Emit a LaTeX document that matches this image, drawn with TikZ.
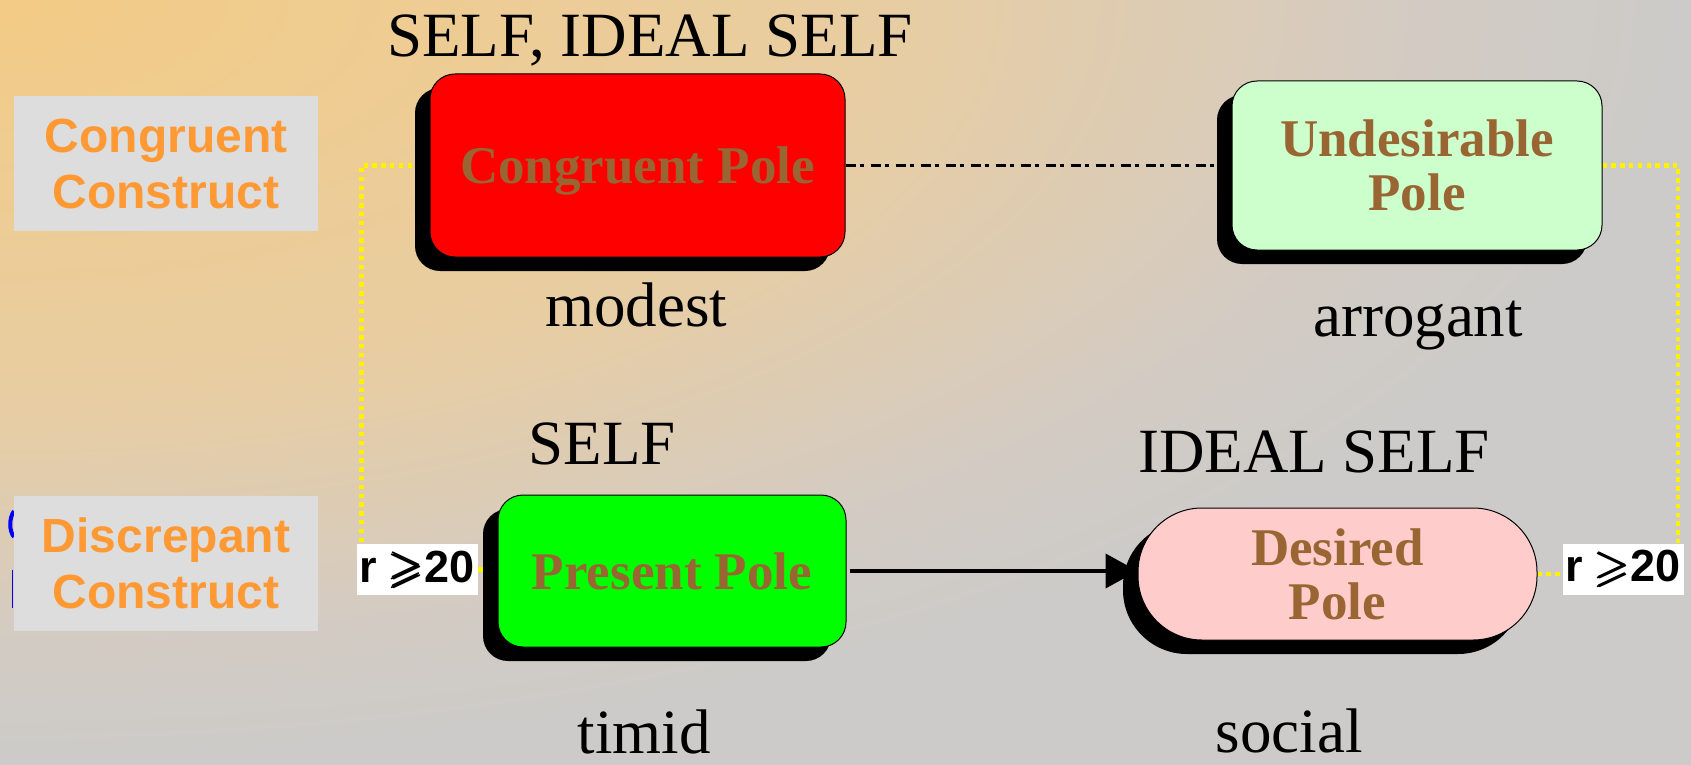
\documentclass[tikz,border=0pt]{standalone}
\usepackage{fontspec}
\usepackage{amsmath,amssymb}
\setmainfont{Liberation Serif}
\newfontfamily\arialfont{Liberation Sans}
\usetikzlibrary{arrows.meta,shadows,backgrounds}
\definecolor{bgorange}{HTML}{F3CB85}
\definecolor{bgtan}{HTML}{E8CDA2}
\definecolor{bgstone}{HTML}{D3CBC3}
\definecolor{bggray}{HTML}{CCCBC9}
\definecolor{polebrown}{HTML}{996633}
\definecolor{labelorange}{HTML}{FF9933}
\definecolor{labelgray}{HTML}{DDDDDD}
\definecolor{undesgreen}{HTML}{CCFFCC}
\definecolor{desirpink}{HTML}{FFCCCC}
\pgfdeclareradialshading{slidebg}{\pgfpoint{0bp}{0bp}}{color(0bp)=(bgorange); color(13bp)=(bgtan); color(21bp)=(bgstone); color(25bp)=(bggray); color(50bp)=(bggray)}
\begin{document}
\begin{tikzpicture}[x=0.5pt,y=-0.5pt,
    pole/.style={draw=black, line width=0.5pt, rounded corners=12.5pt, inner sep=0pt,
      text=polebrown, font=\fontsize{26.5}{27}\selectfont\bfseries, align=center,
      drop shadow={shadow xshift=-7.5pt, shadow yshift=-7pt, fill=black, opacity=1}},
    construct/.style={fill=labelgray, text=labelorange, inner sep=0pt, align=center,
      font=\arialfont\bfseries\fontsize{24}{28}\selectfont, minimum width=152pt, minimum height=67.5pt},
    corr/.style={fill=white, font=\arialfont\bfseries\fontsize{22.5}{24}\selectfont,
      minimum width=60.5pt, minimum height=25.5pt, inner xsep=1pt, inner ysep=0pt},
    caption/.style={font=\fontsize{31.5}{34}\selectfont, anchor=base, inner sep=0pt},
    linkdot/.style={yellow, line width=2.2pt, dash pattern=on 2.2pt off 2.2pt}]
  \useasboundingbox (0,0) rectangle (1691,765);
  \draw[blue, line width=2pt] (14,511) .. controls (9,518) and (9,531) .. (14,537);
  \draw[blue, line width=0.9pt] (12.5,570) -- (12.5,608);
  \node[construct] (congcons) at (166,163.5) {Congruent\\Construct};
  \node[construct] (discons) at (166,563.5) {Discrepant\\Construct};
  \node[pole, fill=red, text depth=0pt, minimum width=207.5pt, minimum height=91.5pt] (congruent) at (637.5,165.5) {Congruent Pole};
  \node[pole, fill=undesgreen, minimum width=185pt, minimum height=84.5pt] (undesirable) at (1417,165.5) {Undesirable\\Pole};
  \node[pole, fill=green, minimum width=174pt, minimum height=76pt] (present) at (672,571) {Present Pole};
  \node[pole, fill=desirpink, rounded corners=32pt, minimum width=199.5pt, minimum height=66pt] (desired) at (1337.5,574) {Desired\\Pole};
  \node[corr] (rleft) at (417.5,569.5) {\makebox[58pt][l]{r $\pmb{\geqslant}$20}};
  \node[corr] (rright) at (1623,569) {\makebox[58pt][l]{r $\pmb{\geqslant}$20}};
  \node[caption] (bothlbl) at (650,57) {SELF, IDEAL SELF};
  \node[caption] (selflbl) at (602,464) {SELF};
  \node[caption] (ideallbl) at (1314,472) {IDEAL SELF};
  \node[caption] (modest) at (636,326) {modest};
  \node[caption] (arrogant) at (1418,336) {arrogant};
  \node[caption] (timid) at (644,753) {timid};
  \node[caption] (social) at (1289,752) {social};
  \begin{scope}[on background layer]
    \clip (0,0) rectangle (1691,765);
    \shade[shading=slidebg] (-1691,-765) rectangle (1691,765);
    \draw[linkdot] (congruent.west) -| ([xshift=2.5pt]rleft.north west);
    \draw[linkdot] (rleft.east) -- (rleft.east -| present.west);
    \draw[linkdot] (undesirable.east) -| ([xshift=-3pt]rright.north east);
    \draw[linkdot] (desired.east) -- (desired.east -| rright.west);
    \draw[line width=1.5pt, dash pattern=on 5pt off 2pt on 2pt off 3.5pt]
      (congruent.east) -- (congruent.east -| undesirable.west);
    \draw[line width=2pt, -{Triangle[length=16pt, width=17pt]}, shorten <=1.5pt]
      (present.east) -- (present.east -| desired.west);
  \end{scope}
\end{tikzpicture}
\end{document}
